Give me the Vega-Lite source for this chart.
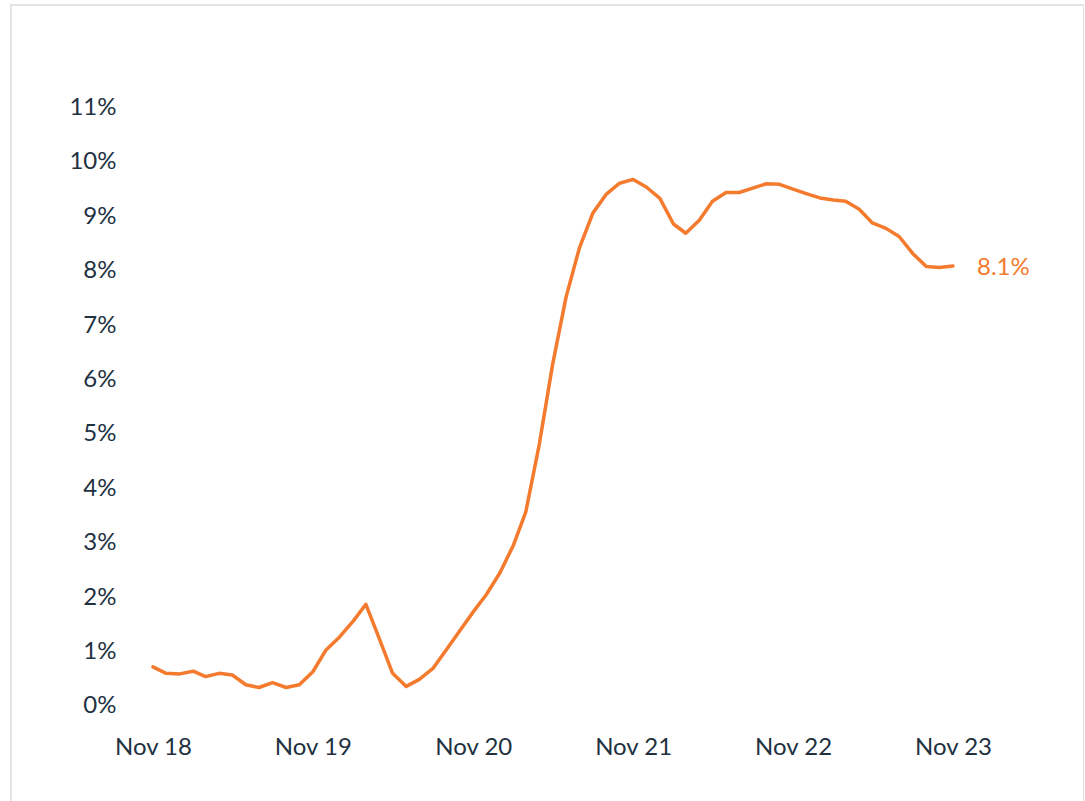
{
  "$schema": "https://vega.github.io/schema/vega-lite/v6.json",
  "autosize": {"type": "none"},
  "padding": {"left": 11, "top": 5, "right": 0, "bottom": 0},
  "width": 1073,
  "height": 800,
  "background": "white",
  "config": {
    "view": {"stroke": "#e3e3e3", "strokeWidth": 2},
    "font": "Lato"
  },
  "data": {
    "values": [
      {"date": "2018-11-01", "rate": 0.72},
      {"date": "2018-12-01", "rate": 0.60},
      {"date": "2019-01-01", "rate": 0.59},
      {"date": "2019-02-01", "rate": 0.64},
      {"date": "2019-03-01", "rate": 0.54},
      {"date": "2019-04-01", "rate": 0.60},
      {"date": "2019-05-01", "rate": 0.57},
      {"date": "2019-06-01", "rate": 0.39},
      {"date": "2019-07-01", "rate": 0.34},
      {"date": "2019-08-01", "rate": 0.43},
      {"date": "2019-09-01", "rate": 0.34},
      {"date": "2019-10-01", "rate": 0.39},
      {"date": "2019-11-01", "rate": 0.63},
      {"date": "2019-12-01", "rate": 1.03},
      {"date": "2020-01-01", "rate": 1.27},
      {"date": "2020-02-01", "rate": 1.56},
      {"date": "2020-03-01", "rate": 1.87},
      {"date": "2020-04-01", "rate": 1.23},
      {"date": "2020-05-01", "rate": 0.60},
      {"date": "2020-06-01", "rate": 0.36},
      {"date": "2020-07-01", "rate": 0.49},
      {"date": "2020-08-01", "rate": 0.69},
      {"date": "2020-09-01", "rate": 1.04},
      {"date": "2020-10-01", "rate": 1.38},
      {"date": "2020-11-01", "rate": 1.73},
      {"date": "2020-12-01", "rate": 2.05},
      {"date": "2021-01-01", "rate": 2.45},
      {"date": "2021-02-01", "rate": 2.96},
      {"date": "2021-03-01", "rate": 3.57},
      {"date": "2021-04-01", "rate": 4.82},
      {"date": "2021-05-01", "rate": 6.27},
      {"date": "2021-06-01", "rate": 7.52},
      {"date": "2021-07-01", "rate": 8.41},
      {"date": "2021-08-01", "rate": 9.06},
      {"date": "2021-09-01", "rate": 9.41},
      {"date": "2021-10-01", "rate": 9.61},
      {"date": "2021-11-01", "rate": 9.68},
      {"date": "2021-12-01", "rate": 9.54},
      {"date": "2022-01-01", "rate": 9.33},
      {"date": "2022-02-01", "rate": 8.86},
      {"date": "2022-03-01", "rate": 8.69},
      {"date": "2022-04-01", "rate": 8.93},
      {"date": "2022-05-01", "rate": 9.28},
      {"date": "2022-06-01", "rate": 9.44},
      {"date": "2022-07-01", "rate": 9.44},
      {"date": "2022-08-01", "rate": 9.52},
      {"date": "2022-09-01", "rate": 9.60},
      {"date": "2022-10-01", "rate": 9.59},
      {"date": "2022-11-01", "rate": 9.50},
      {"date": "2022-12-01", "rate": 9.42},
      {"date": "2023-01-01", "rate": 9.34},
      {"date": "2023-02-01", "rate": 9.30},
      {"date": "2023-03-01", "rate": 9.28},
      {"date": "2023-04-01", "rate": 9.13},
      {"date": "2023-05-01", "rate": 8.88},
      {"date": "2023-06-01", "rate": 8.78},
      {"date": "2023-07-01", "rate": 8.63},
      {"date": "2023-08-01", "rate": 8.32},
      {"date": "2023-09-01", "rate": 8.08},
      {"date": "2023-10-01", "rate": 8.06},
      {"date": "2023-11-01", "rate": 8.09, "label": "8.1%"}
    ]
  },
  "encoding": {
    "x": {
      "field": "date",
      "type": "temporal",
      "scale": {
        "type": "utc",
        "domain": [
          {"year": 2017, "month": 12, "date": 12, "utc": true},
          {"year": 2024, "month": 8, "date": 26, "utc": true}
        ]
      },
      "axis": {
        "title": null,
        "format": "%b %y",
        "values": [
          {"year": 2018, "month": 11, "date": 1, "utc": true},
          {"year": 2019, "month": 11, "date": 1, "utc": true},
          {"year": 2020, "month": 11, "date": 1, "utc": true},
          {"year": 2021, "month": 11, "date": 1, "utc": true},
          {"year": 2022, "month": 11, "date": 1, "utc": true},
          {"year": 2023, "month": 11, "date": 1, "utc": true}
        ],
        "offset": -70,
        "domain": false,
        "ticks": false,
        "tickSize": 0,
        "grid": false,
        "labelPadding": 0,
        "labelFontSize": 24,
        "labelFontWeight": "normal",
        "labelColor": "#22313f",
        "labelFont": "Lato",
        "labelBaseline": "top",
        "labelOverlap": false
      }
    },
    "y": {
      "field": "rate",
      "type": "quantitative",
      "scale": {"domain": [-1.82, 12.886], "nice": false, "zero": false},
      "axis": {
        "title": null,
        "values": [0, 1, 2, 3, 4, 5, 6, 7, 8, 9, 10, 11],
        "labelExpr": "datum.value + '%'",
        "offset": -105,
        "domain": false,
        "ticks": false,
        "tickSize": 0,
        "grid": false,
        "labelPadding": 0,
        "labelFontSize": 24,
        "labelFontWeight": "normal",
        "labelColor": "#22313f",
        "labelFont": "Lato",
        "labelOverlap": false
      }
    }
  },
  "layer": [
    {
      "mark": {"type": "line", "color": "#f47a2e", "strokeWidth": 3.5, "strokeJoin": "round", "strokeCap": "round"}
    },
    {
      "transform": [{"filter": "datum.label != null"}],
      "mark": {"type": "text", "align": "left", "baseline": "middle", "dx": 24, "dy": 2, "fontSize": 24, "color": "#f47a2e", "font": "Lato"},
      "encoding": {"text": {"field": "label"}}
    }
  ]
}
